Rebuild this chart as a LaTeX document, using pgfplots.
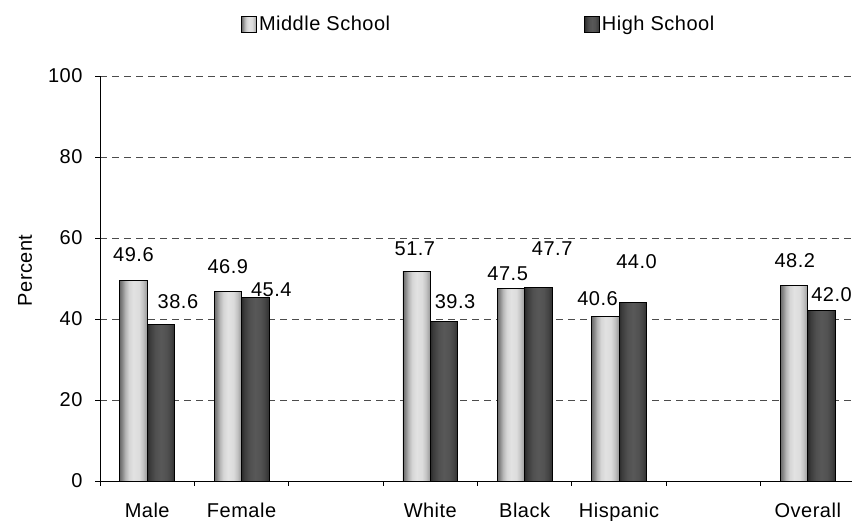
\documentclass[border=0pt]{standalone}
\usepackage{pgfplots}
\pgfplotsset{compat=1.18}
\usepackage{fontspec}
\setmainfont{Liberation Sans}[LetterSpace=2.5]

\definecolor{ms1}{HTML}{6A6A6A}
\definecolor{ms2}{HTML}{8C8C8C}
\definecolor{ms3}{HTML}{B4B4B4}
\definecolor{ms4}{HTML}{D6D6D6}
\definecolor{ms5}{HTML}{E2E2E2}
\definecolor{ms6}{HTML}{DCDCDC}
\definecolor{ms7}{HTML}{C4C4C4}
\definecolor{ms8}{HTML}{A8A8A8}
\definecolor{ms9}{HTML}{9A9A9A}
\pgfdeclarehorizontalshading{msshade}{100bp}{color(0bp)=(ms1); color(25bp)=(ms1); color(30bp)=(ms2); color(35bp)=(ms3); color(42bp)=(ms4); color(50bp)=(ms5); color(60bp)=(ms6); color(67bp)=(ms7); color(72bp)=(ms8); color(75bp)=(ms9); color(100bp)=(ms9)}

\definecolor{hs1}{HTML}{2A2A2A}
\definecolor{hs2}{HTML}{3C3C3C}
\definecolor{hs3}{HTML}{505050}
\definecolor{hs4}{HTML}{585858}
\definecolor{hs5}{HTML}{525252}
\definecolor{hs6}{HTML}{444444}
\definecolor{hs7}{HTML}{303030}
\pgfdeclarehorizontalshading{hsshade}{100bp}{color(0bp)=(hs1); color(25bp)=(hs1); color(30bp)=(hs2); color(40bp)=(hs3); color(50bp)=(hs4); color(60bp)=(hs5); color(68bp)=(hs6); color(75bp)=(hs7); color(100bp)=(hs7)}

\pgfplotsset{
  msbar/.style={ybar, bar width=0.29, bar shift=-0.145, draw=black, line width=0.8pt, shading=msshade,
    legend image code/.code={\draw[shading=msshade, draw=black, line width=0.8pt] (0pt,-8pt) rectangle (15pt,8pt);}},
  hsbar/.style={ybar, bar width=0.29, bar shift=0.145, draw=black, line width=0.8pt, shading=hsshade,
    legend image code/.code={\draw[shading=hsshade, draw=black, line width=0.8pt] (0pt,-8pt) rectangle (15pt,8pt);}},
}
% x, value, label xshift from category centre (pt), label yshift above bar top (pt)
\newcommand{\msb}[5][forget plot]{\addplot[msbar, #1, nodes near coords style={xshift=#4pt, yshift=#5pt}] coordinates {(#2,#3)};}
\newcommand{\hsb}[5][forget plot]{\addplot[hsbar, #1, nodes near coords style={xshift=#4pt, yshift=#5pt}] coordinates {(#2,#3)};}

\begin{document}
\begin{tikzpicture}[font=\fontsize{20}{24}\selectfont]
\begin{axis}[
  at={(100pt,40pt)}, anchor=south west,
  width=755pt, height=405pt, scale only axis,
  xmin=-0.5, xmax=7.5, ymin=0, ymax=100,
  axis x line*=bottom, axis y line*=left,
  axis line style={black, line width=0.8pt, -},
  xtick={-0.5,0.5,...,6.5}, xticklabels={},
  extra x ticks={0,1,3,4,5,7},
  extra x tick labels={Male,Female,White,Black,Hispanic,Overall},
  extra x tick style={major tick length=0pt, grid=none,
     xticklabel style={anchor=base, yshift=-37pt, font=\fontsize{20}{24}\selectfont}},
  ytick={0,20,...,100},
  tick align=outside, major tick length=5pt,
  tick style={black, line width=0.8pt},
  yticklabel style={font=\fontsize{20}{24}\selectfont, xshift=-9pt},
  /pgf/number format/assume math mode=true,
  ymajorgrids, grid style={dash pattern=on 7pt off 5pt, black!70, line width=0.8pt},
  ylabel={Percent},
  ylabel style={at={(axis description cs:-0.0993,0.52)}, anchor=center, font=\fontsize{20}{24}\selectfont},
  legend style={at={(axis description cs:0.1868,1.128)}, anchor=west, draw=none, fill=none,
     legend columns=2, inner sep=0pt, font=\fontsize{20}{24}\selectfont,
     /tikz/every even column/.append style={column sep=192pt},
     nodes={inner sep=2pt}},
  nodes near coords,
  nodes near coords style={font=\fontsize{20}{24}\selectfont, anchor=center,
     /pgf/number format/fixed, /pgf/number format/fixed zerofill, /pgf/number format/precision=1},
]
\msb[]{0}{49.6}{-13.75}{25}
\addlegendentry{Middle School}
\hsb[]{0}{38.6}{30.75}{23}
\addlegendentry{High School}
\msb{1}{46.9}{-13.75}{24.4}
\hsb{1}{45.4}{29.75}{7.8}
\msb{3}{51.7}{-15.4}{23.3}
\hsb{3}{39.3}{24.75}{20}
\msb{4}{47.5}{-17}{15.3}
\hsb{4}{47.7}{27.5}{39.5}
\msb{5}{40.6}{-21.5}{18.3}
\hsb{5}{44.0}{17.5}{41}
\msb{7}{48.2}{-13}{25}
\hsb{7}{42.0}{23.75}{16}
\end{axis}
\pgfresetboundingbox
\useasboundingbox (0,0) rectangle (852pt,521pt);
\end{tikzpicture}
\end{document}
